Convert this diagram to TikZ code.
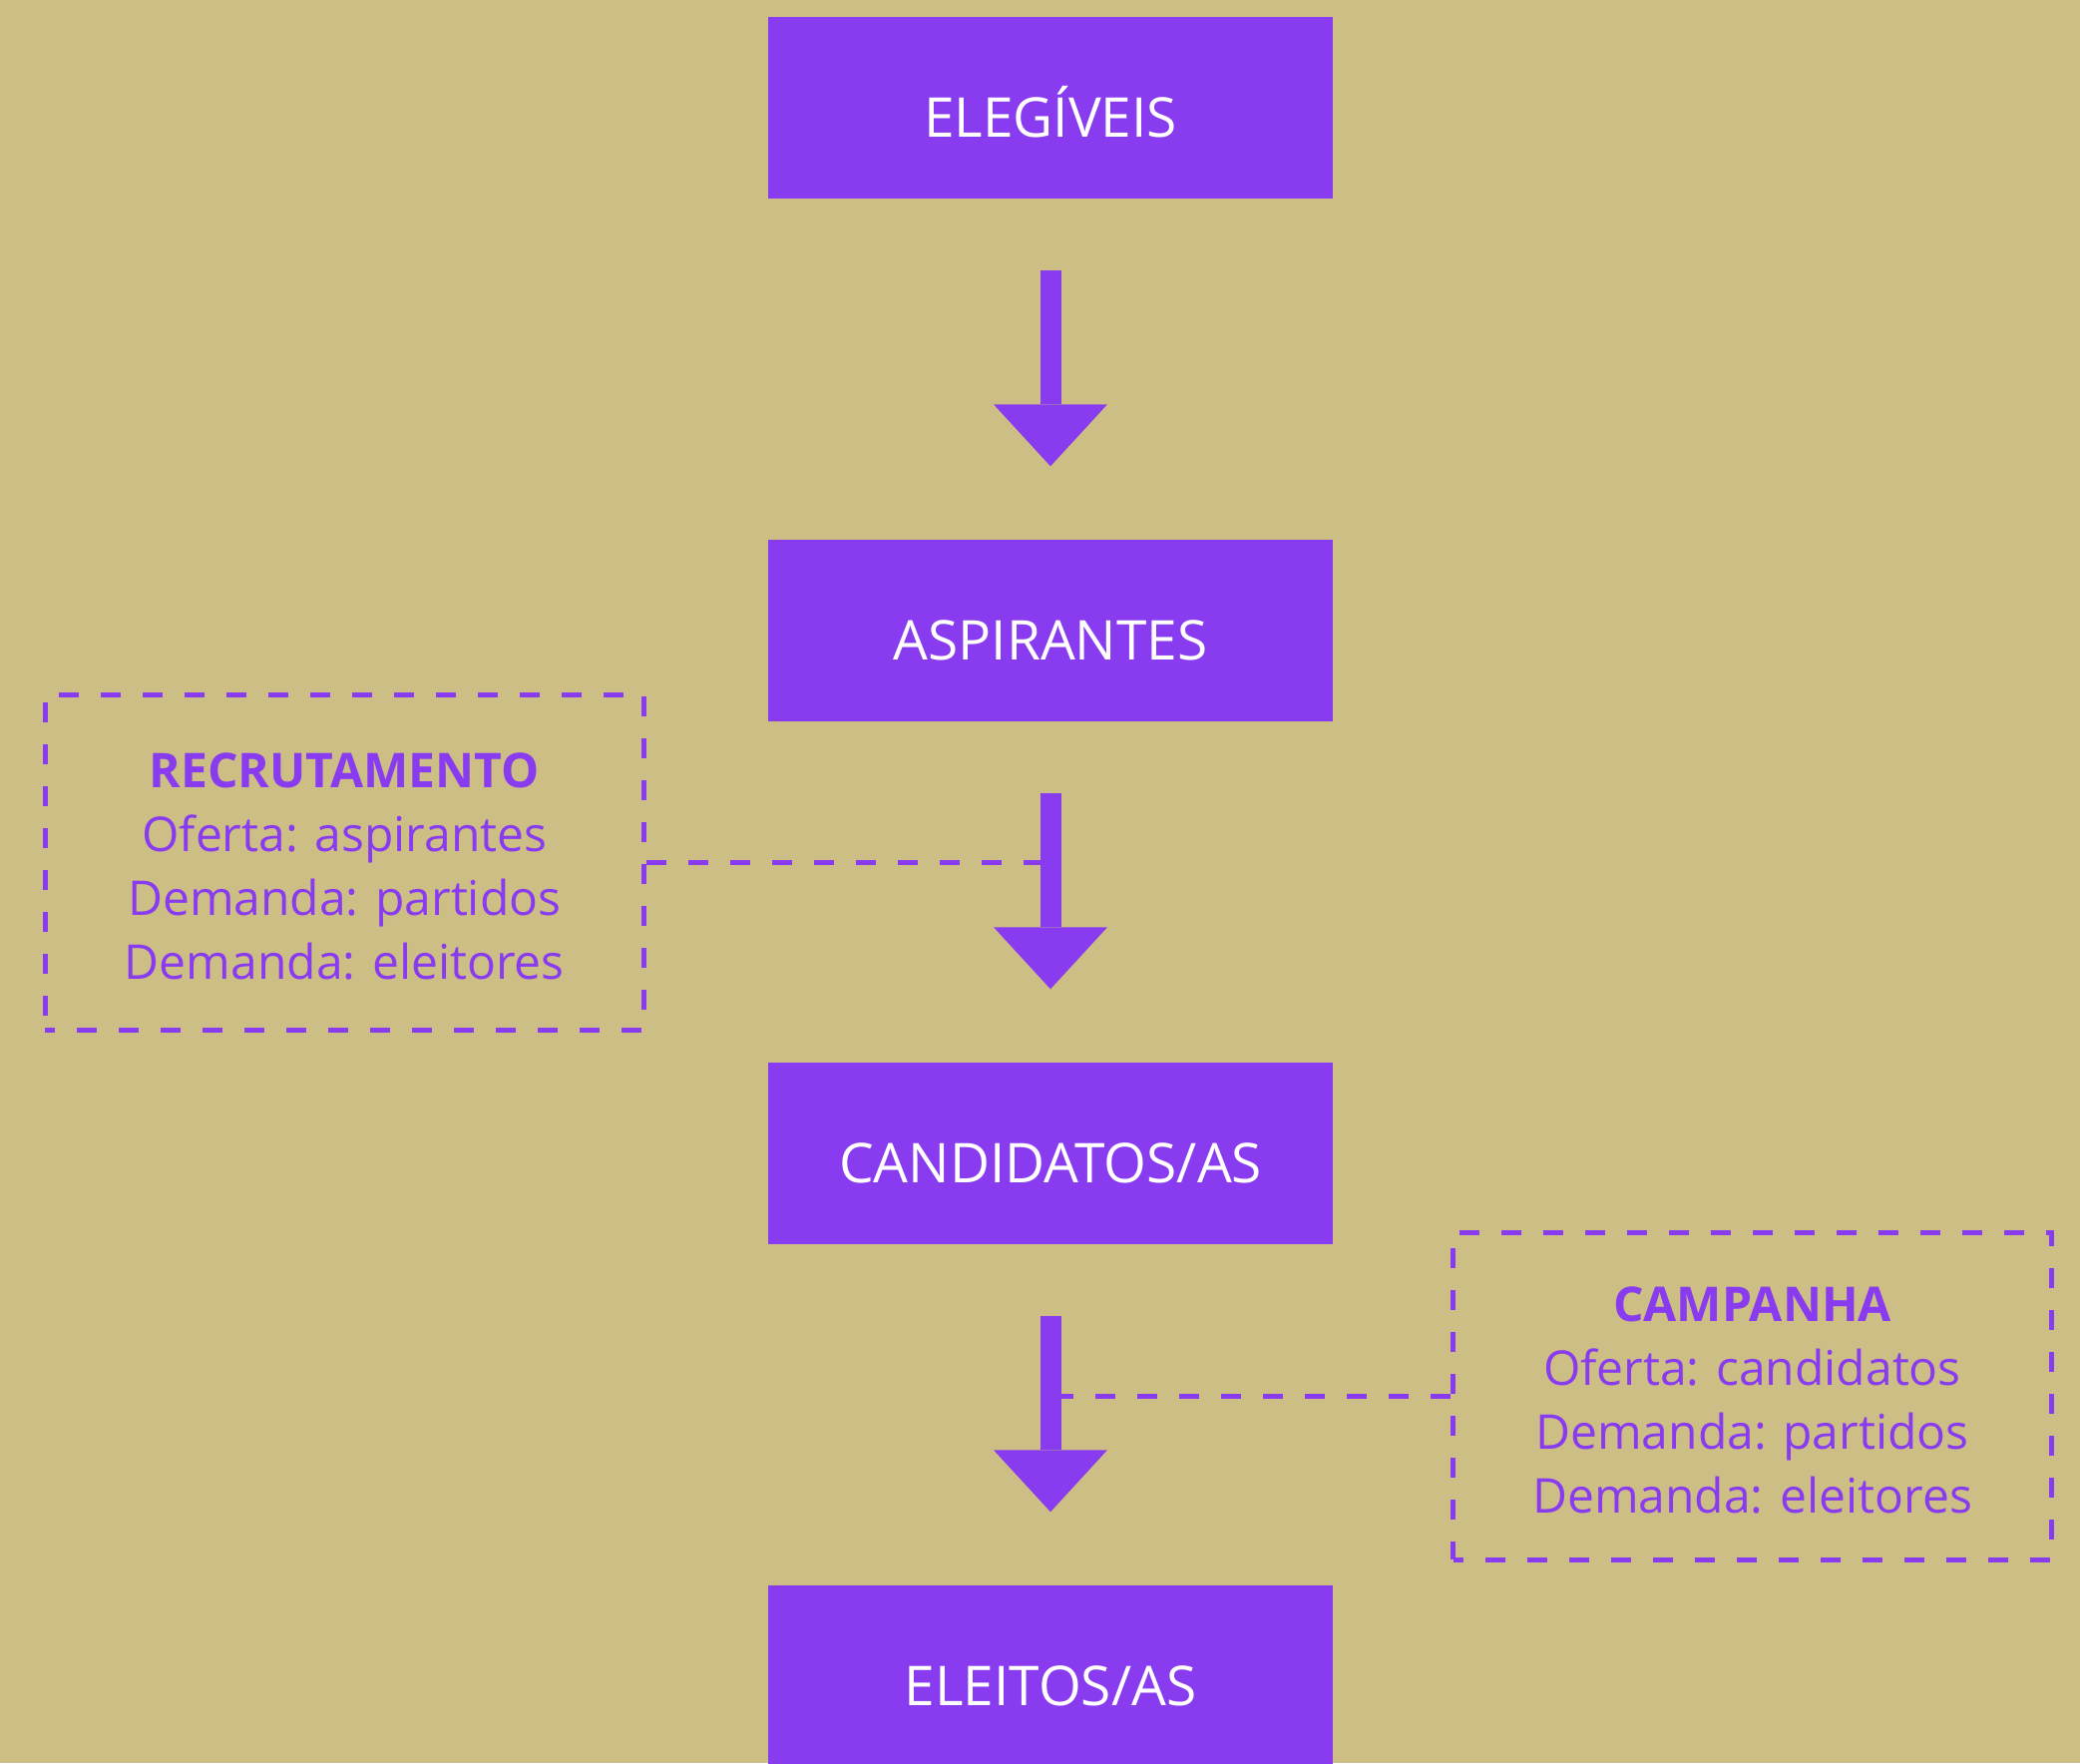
\documentclass[tikz,border=0pt]{standalone}
\usepackage{fontspec}
\setmainfont{Open Sans}
\usetikzlibrary{arrows.meta}
\definecolor{C0}{RGB}{137,59,240}
\definecolor{C1}{RGB}{205,190,133}

\begin{document}
\begin{tikzpicture}[x=1pt,y=-1pt,
    stage/.style={fill=C0,text=white,minimum width=566pt,minimum height=182pt,inner sep=0pt,
      font=\fontsize{55}{64}\selectfont,text height=58pt,text depth=0pt},
    flow/.style={C0,line width=21pt,-{Triangle[length=62pt,width=114pt,line width=0pt]},
      shorten <=72pt,shorten >=73.5pt},
    market/.style={draw=C0,line width=5pt,dash pattern=on 20pt off 22pt,dash phase=10pt,
      text=C0,minimum width=600pt,align=center,font=\fontsize{48}{64}\selectfont},
    link/.style={C0,line width=5pt,dash pattern=on 20pt off 22pt}]
  \fill[C1] (0,0) rectangle (2085,1767);
  \useasboundingbox (0,0) rectangle (2085,1767);

  % stages
  \node[stage] (elegiveis) at (1053,108) {ELEGÍVEIS};
  \node[stage] (aspirantes) at (1053,632) {ASPIRANTES};
  \node[stage] (candidatos) at (1053,1156) {CANDIDATOS/AS};
  \node[stage] (eleitos) at (1053,1680) {ELEITOS/AS};

  % markets
  \node[market,minimum height=336pt] (recrutamento) at (345.3,864)
    {\rule{0pt}{43pt}\textbf{RECRUTAMENTO}\\Oferta: aspirantes\\Demanda: partidos\\Demanda: eleitores};
  \node[market,minimum height=328pt] (campanha) at (1756.5,1399)
    {\rule{0pt}{43pt}\textbf{CAMPANHA}\\Oferta: candidatos\\Demanda: partidos\\Demanda: eleitores};

  \draw[link] (recrutamento.east) -- (recrutamento.east -| aspirantes.south);
  \draw[link] (campanha.west) -- (campanha.west -| candidatos.south);

  \draw[flow] (elegiveis) -- (aspirantes);
  \draw[flow] (aspirantes) -- (candidatos);
  \draw[flow] (candidatos) -- (eleitos);
\end{tikzpicture}
\end{document}
